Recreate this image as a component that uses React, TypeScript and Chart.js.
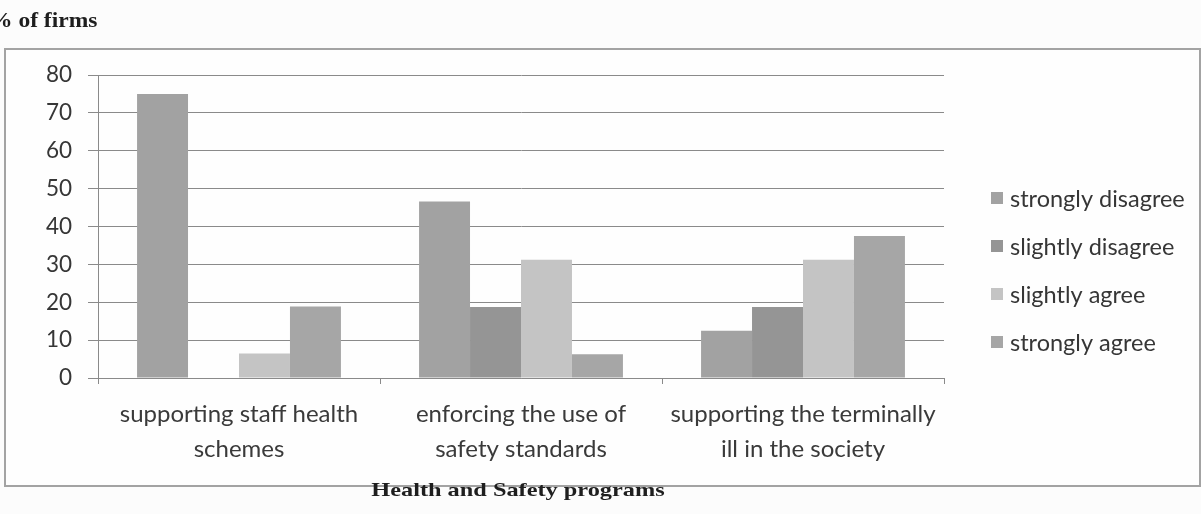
import React, { useEffect, useRef } from "react";
import { Chart, registerables } from "chart.js";

Chart.register(...registerables);

// Categories (two-line axis labels)
const categories: string[][] = [
  ["supporting staff health", "schemes"],
  ["enforcing the use of", "safety standards"],
  ["supporting the terminally", "ill in the society"],
];

// Response series, % of firms
const seriesNames = ["strongly disagree", "slightly disagree", "slightly agree", "strongly agree"];
const stronglyDisagree = [75, 46.6, 12.5];
const slightlyDisagree = [0, 18.75, 18.75];
const slightlyAgree = [6.5, 31.25, 31.25];
const stronglyAgree = [18.9, 6.25, 37.5];

const seriesColors = ["#a2a2a2", "#959595", "#c4c4c4", "#a6a6a6"];

const yMin = 0;
const yMax = 80;
const yStep = 10;

const FONT = "Lato, 'Open Sans', sans-serif";

// Draws the legend as a vertical list to the right of the plot
const sideLegend = {
  id: "sideLegend",
  afterDraw(chart: any) {
    const { ctx, chartArea } = chart;
    const x0 = chartArea.right + 47;
    const y0 = chartArea.top + 123;
    const gap = 48;
    ctx.save();
    ctx.font = `23.5px ${FONT}`;
    ctx.textBaseline = "middle";
    ctx.textAlign = "left";
    chart.data.datasets.forEach((ds: any, i: number) => {
      const y = y0 + i * gap;
      ctx.fillStyle = ds.backgroundColor;
      ctx.fillRect(x0, y - 6, 12, 12);
      ctx.fillStyle = "#363636";
      ctx.fillText(ds.label, x0 + 19, y + 1);
    });
    ctx.restore();
  },
};

function BarChart() {
  const ref = useRef<HTMLCanvasElement | null>(null);

  useEffect(() => {
    if (!ref.current) return;
    const values = [stronglyDisagree, slightlyDisagree, slightlyAgree, stronglyAgree];
    const chart = new Chart(ref.current, {
      type: "bar",
      data: {
        labels: categories,
        datasets: seriesNames.map((name, i) => ({
          label: name,
          data: values[i],
          backgroundColor: seriesColors[i],
          borderWidth: 0,
          categoryPercentage: 0.723,
          barPercentage: 1,
        })),
      },
      options: {
        responsive: false,
        animation: false,
        events: [],
        layout: { padding: { left: 0, top: 75, right: 257, bottom: 0 } },
        plugins: {
          legend: { display: false },
          tooltip: { enabled: false },
          title: { display: false },
        },
        scales: {
          x: {
            offset: true,
            grid: {
              offset: true,
              drawOnChartArea: false,
              drawTicks: true,
              tickLength: 6,
              color: "#8a8a8a",
            },
            border: { display: true, color: "#8a8a8a", width: 1 },
            ticks: {
              color: "#3a3a3a",
              padding: 13,
              maxRotation: 0,
              autoSkip: false,
              font: { family: FONT, size: 24, lineHeight: 1.46 },
            },
            afterFit: (s: any) => {
              s.height = 136;
            },
          },
          y: {
            min: yMin,
            max: yMax,
            ticks: {
              stepSize: yStep,
              color: "#363636",
              padding: 16,
              font: { family: FONT, size: 22.5 },
            },
            grid: {
              color: "#8a8a8a",
              lineWidth: 1,
              drawTicks: true,
              tickLength: 10,
            },
            border: { display: true, color: "#8a8a8a", width: 1 },
            afterFit: (s: any) => {
              s.width = 98;
            },
          },
        },
      },
      plugins: [sideLegend],
    });
    return () => chart.destroy();
  }, []);

  return (
    <canvas
      ref={ref}
      width={1201}
      height={514}
      style={{ position: "absolute", left: 0, top: 0, width: 1201, height: 514 }}
    />
  );
}

export default function App() {
  return (
    <div
      style={{
        position: "fixed",
        left: 0,
        top: 0,
        width: 1201,
        height: 514,
        background: "#fcfcfc",
        overflow: "hidden",
      }}
    >
      <div
        style={{
          position: "absolute",
          left: 4,
          top: 48,
          width: 1197,
          height: 439,
          border: "2px solid #a3a3a3",
          boxSizing: "border-box",
          background: "#fefefe",
        }}
      />
      <BarChart />
      <span
        style={{
          position: "absolute",
          left: -11,
          top: 8,
          lineHeight: "24px",
          fontFamily: "'Liberation Serif', serif",
          fontWeight: "bold",
          fontSize: 21,
          color: "#1e1e1e",
          whiteSpace: "nowrap",
          transform: "scaleX(1.12)",
          transformOrigin: "left center",
        }}
      >
        % of firms
      </span>
      <span
        style={{
          position: "absolute",
          left: 518,
          top: 478,
          lineHeight: "24px",
          fontFamily: "'Liberation Serif', serif",
          fontWeight: "bold",
          fontSize: 19,
          color: "#1e1e1e",
          whiteSpace: "nowrap",
          transform: "translateX(-50%) scaleX(1.28)",
          transformOrigin: "center center",
        }}
      >
        Health and Safety programs
      </span>
    </div>
  );
}
